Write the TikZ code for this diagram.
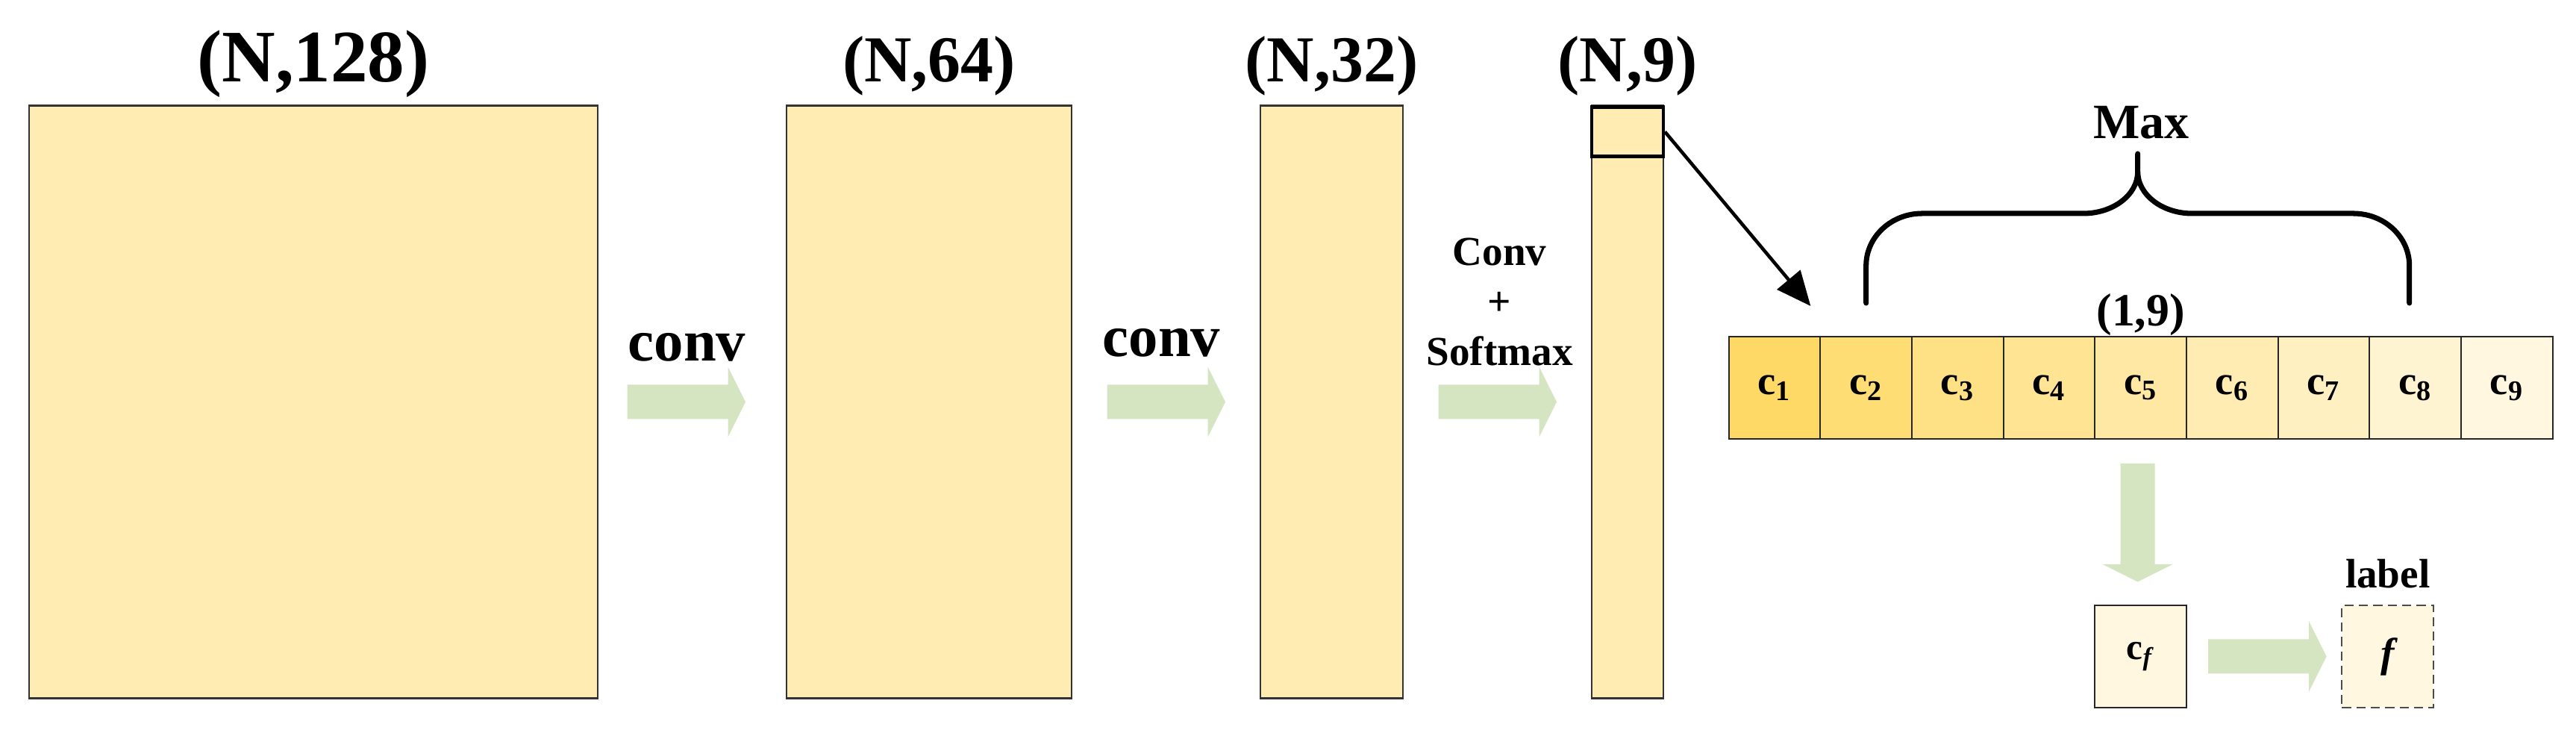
\documentclass[tikz,border=0pt]{standalone}
\usepackage{fontspec}
\setmainfont{Liberation Serif}
\usepackage{tikz}
\usetikzlibrary{calc,positioning,arrows.meta}
\definecolor{goud}{HTML}{FFD966}
\definecolor{lichtgroen}{HTML}{D5E5C1}
\tikzset{
    kaart/.style={draw=black!80, line width=0.6pt, fill=goud!50!white, minimum height=7.94cm, inner sep=0pt, outer sep=0pt},
    maat/.style={font=\bfseries\fontsize{25}{30}\selectfont, inner sep=0pt, anchor=base},
    cel/.style={draw=black!85, line width=0.6pt, minimum width=1.2267cm, minimum height=1.37cm, inner sep=0pt, outer sep=0pt, font=\bfseries\fontsize{15.5}{18}\selectfont},
    vak/.style={line width=0.6pt, fill=goud!20!white, minimum width=1.23cm, minimum height=1.37cm, inner sep=0pt, outer sep=0pt},
    pijltekst/.style={font=\bfseries\fontsize{22.4}{26}\selectfont, inner sep=0pt, anchor=base},
    klein/.style={font=\bfseries\fontsize{15.7}{19.2}\selectfont, inner sep=0pt},
    accolade/.style={line width=2pt, line cap=round, line join=round},
}
\NewDocumentCommand{\blokpijl}{O{0} m}{ % richting in graden, beginpunt
    \fill[lichtgroen, shift={(#2)}, rotate=#1] (0,0.23) -- (1.35,0.23) -- (1.35,0.47) -- (1.585,0)
        -- (1.35,-0.47) -- (1.35,-0.23) -- (0,-0.23) -- cycle;
}
\begin{document}
\begin{tikzpicture}
    \useasboundingbox (0,0) rectangle (34.52,9.82);
    % feature maps
    \node[kaart, minimum width=7.62cm] (K1) at (4.20,4.435) {};
    \node[kaart, minimum width=3.82cm, right=2.53cm of K1] (K2) {};
    \node[kaart, minimum width=1.91cm, right=2.53cm of K2] (K3) {};
    \node[kaart, minimum width=0.96cm, right=2.53cm of K3] (K4) {};
    \node[draw, line width=1.2pt, fill=goud!50!white, minimum width=0.96cm, minimum height=0.66cm, inner sep=0pt, anchor=north] (k) at (K4.north) {};
    \node[maat, font=\bfseries\fontsize{28.2}{32}\selectfont] (L1) at ($(K1.north)+(0,0.32)$) {(N,128)};
    \node[maat] (L2) at ($(K2.north)+(0,0.32)$) {(N,64)};
    \node[maat] (L3) at ($(K3.north)+(0,0.32)$) {(N,32)};
    \node[maat] (L4) at ($(K4.north)+(0,0.32)$) {(N,9)};
    % groene pijlen
    \coordinate (p1) at ($(K1.east)!0.5!(K2.west)+(-0.87,0)$);
    \coordinate (p2) at ($(K2.east)!0.5!(K3.west)+(-0.79,0)$);
    \coordinate (p3) at ($(K3.east)!0.5!(K4.west)+(-0.79,0)$);
    \blokpijl{p1}
    \blokpijl{p2}
    \blokpijl{p3}
    \node[pijltekst] (t1) at ($(p1)+(0.80,0.55)$) {conv};
    \node[pijltekst] (t2) at ($(p2)+(0.73,0.61)$) {conv};
    \node[klein, align=center] (t3) at ($(p3)+(0.82,1.34)$) {Conv\\+\\Softmax};
    % rij c1 ... c9
    \node[cel, fill=goud] (c1) at (23.78,4.625) {c\textsubscript{1}};
    \foreach \i in {2,...,9}{
        \pgfmathtruncatemacro{\vorige}{\i-1}
        \pgfmathtruncatemacro{\pct}{110-10*\i}
        \node[cel, fill=goud!\pct!white, right=0pt of c\vorige] (c\i) {c\textsubscript{\i}};
    }
    \node[font=\bfseries\fontsize{17.6}{20}\selectfont, inner sep=0pt, anchor=base] (rij) at ($(c5.north)+(0,0.14)$) {(1,9)};
    \coordinate (doel) at ($(c1.north east)+(-0.13,0.41)$);
    \draw[line width=1.3pt, -{Triangle[length=4.6mm,width=4mm]}] (k.east) -- (doel);
    % accolade
    \coordinate (bl) at ($(c2.north)+(0,0.45)$);
    \coordinate (br) at ($(c8.north)+(-0.08,0.45)$);
    \coordinate (top) at ($(bl)!0.5!(br)+(0,2.0)$);
    \draw[accolade] (bl) -- ($(bl)+(0,0.5)$)
        .. controls ($(bl)+(0,0.89)$) and ($(bl)+(0.34,1.2)$) .. ($(bl)+(0.75,1.2)$)
        -- ($(top)+(-0.73,-0.8)$)
        .. controls ($(top)+(-0.33,-0.8)$) and ($(top)+(0,-0.55)$) .. ($(top)+(0,-0.24)$)
        -- (top) -- ($(top)+(0,-0.24)$)
        .. controls ($(top)+(0,-0.55)$) and ($(top)+(0.33,-0.8)$) .. ($(top)+(0.73,-0.8)$)
        -- ($(br)+(-0.75,1.2)$)
        .. controls ($(br)+(-0.34,1.2)$) and ($(br)+(0,0.89)$) .. ($(br)+(0,0.5)$)
        -- (br);
    \node[font=\bfseries\fontsize{18.8}{22}\selectfont, inner sep=0pt, anchor=base] (max) at ($(top)+(0.05,0.2)$) {Max};
    % c_f en label
    \coordinate (p4) at ($(c5.south)+(-0.04,-0.33)$);
    \blokpijl[-90]{p4}
    \node[vak, draw=black!85, below=2.23cm of c5, font=\bfseries\fontsize{14}{16}\selectfont] (cf) {c\textsubscript{\textit{f}}};
    \node[vak, draw=black!70, dash pattern=on 3.5pt off 2pt, right=2.08cm of cf, font=\bfseries\itshape\fontsize{15.7}{18}\selectfont] (f) {f};
    \coordinate (p5) at ($(cf.east)+(0.29,0)$);
    \blokpijl{p5}
    \node[klein, anchor=base] (lab) at ($(f.north)+(0,0.23)$) {label};
\end{tikzpicture}
\end{document}
